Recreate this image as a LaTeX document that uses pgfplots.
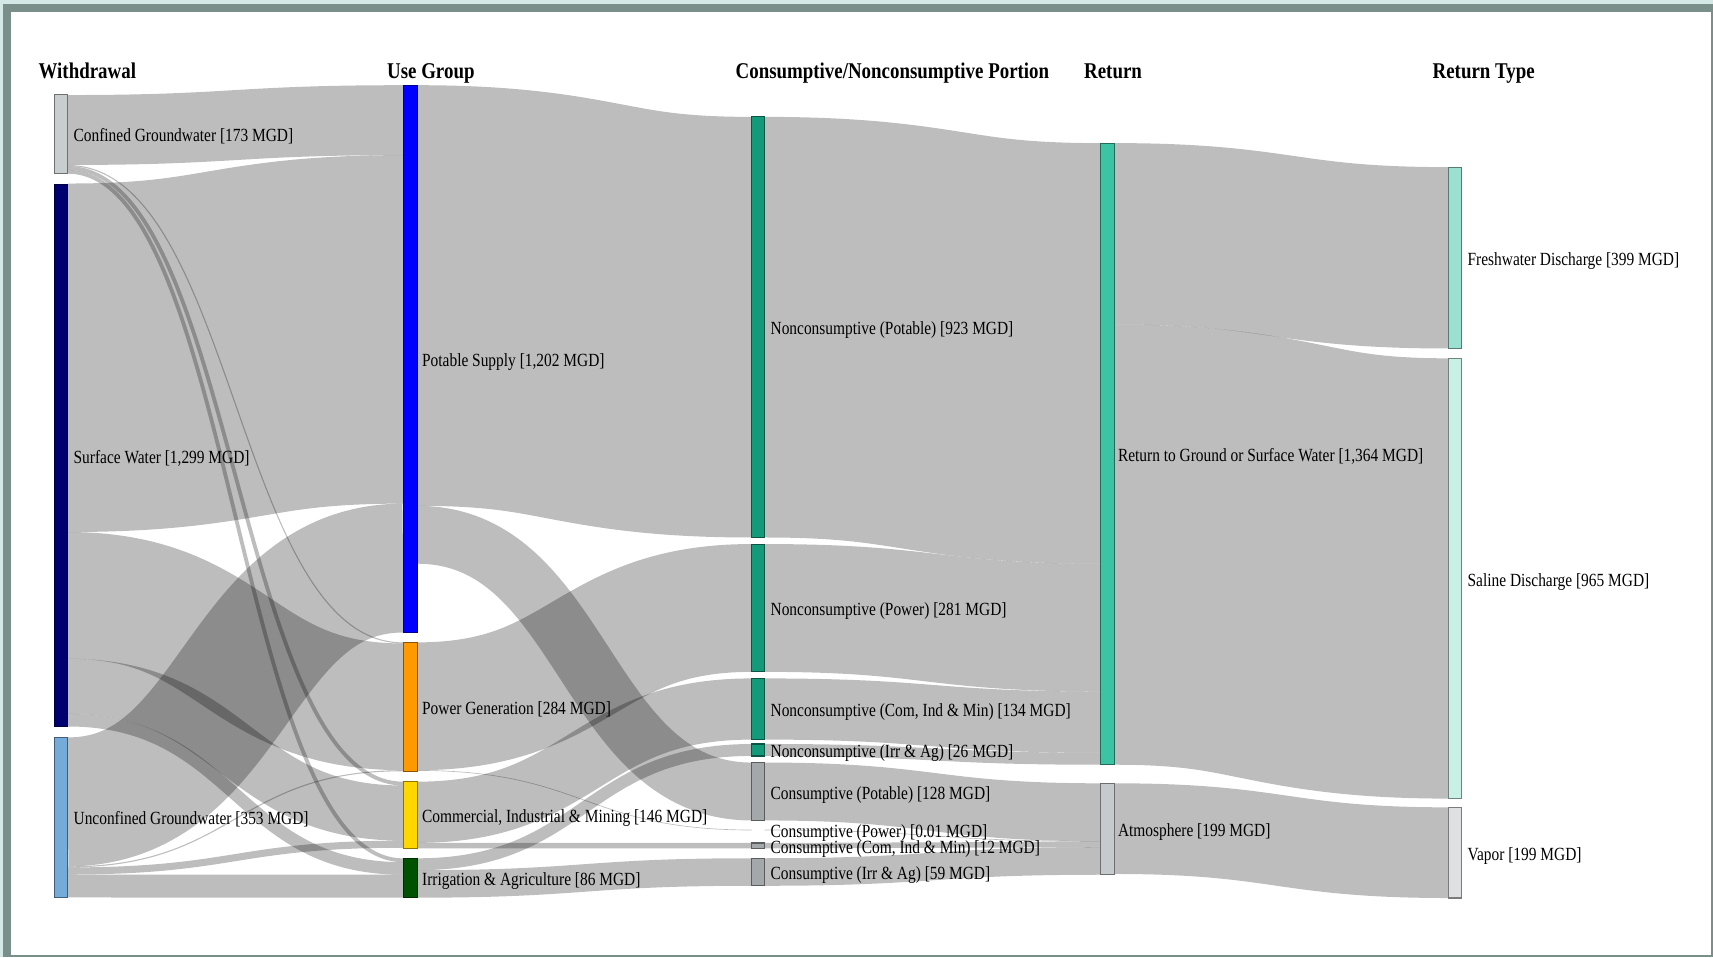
\documentclass[border=0pt]{standalone}
\usepackage{pgfplots}
\pgfplotsset{compat=1.18}
\usepackage{pgfplotstable}
\usepackage{graphicx}
\usepackage{fontspec}
\setmainfont{Liberation Serif}

\definecolor{frameL}{HTML}{D4E8E6}
\definecolor{frameD}{HTML}{7A8E8A}
\definecolor{cConf}{HTML}{C8CDCF}
\definecolor{cSurf}{HTML}{000070}
\definecolor{cUnc}{HTML}{75ABD8}
\definecolor{cPot}{HTML}{0000FF}
\definecolor{cPow}{HTML}{FF9900}
\definecolor{cCom}{HTML}{FFD700}
\definecolor{cIrr}{HTML}{005200}
\definecolor{cNC}{HTML}{139A7B}
\definecolor{cC}{HTML}{A3A8AB}
\definecolor{cRet}{HTML}{3CC3A4}
\definecolor{cAtm}{HTML}{C5CACD}
\definecolor{cFresh}{HTML}{9BE0D0}
\definecolor{cSal}{HTML}{C9F0E7}
\definecolor{cVap}{HTML}{DFE0E3}

\tikzset{flow/.style={draw=black, draw opacity=0.26}}

% pixel units: 1 px = 0.5pt, y grows downward
\newcommand\lbl[1]{\scalebox{0.83}[1]{\fontsize{8.5}{10}\selectfont #1}}
\newcommand\hdr[1]{\scalebox{0.84}[1]{\fontsize{10.3}{12}\selectfont\bfseries #1}}
\newcommand\snode[5]{\addplot[fill=#1, draw=#1!55!black, line width=0.5pt]
  coordinates {(#2,#4) (#3,#4) (#3,#5) (#2,#5)} -- cycle;}

% links: source x, top, bottom -> target x, top, bottom (px)
\pgfplotstableread{
x0   a0    b0    x1   a1    b1
62   87    151   369  78    142
62   151   152   369  588   589
62   152   155.5 369  715.5 719
62   155.5 159   369  785.7 789.2
62   168   487   369  142   461
62   487   603   369  589   705
62   603   653.5 369  719   769.5
62   653.5 665   369  789.2 800.7
62   675   793   369  461   579
62   793   794   369  705   706
62   794   800.5 369  769.5 776
62   800.5 821.5 369  800.7 821.7
382  78    463   688  107   492
382  463   516   688  698   751
382  588   705   688  498   615
382  705   705.5 688  759.5 760
382  715.5 771.5 688  621   677
382  771.5 776.5 688  771.6 776.6
382  785.7 796.5 688  681   692
382  796.5 821.7 688  785.6 810.8
700  107   492   1007 131   516
700  498   615   1007 516   633
700  621   677   1007 633   689
700  681   692   1007 689   700
700  698   751   1007 717   770
700  759.5 760   1007 770   770.5
700  771.6 776.6 1007 770.5 775.5
700  785.6 810.8 1007 775.5 800.7
1020 131   297   1326 153   319
1020 297   700   1326 328   731
1020 717   800   1326 739   822
}\flows

\begin{document}
\begin{tikzpicture}
\begin{axis}[
  scale only axis, width=784pt, height=438pt,
  xmin=0, xmax=1568, ymin=0, ymax=876, y dir=reverse,
  hide axis, clip=false, no markers,
]
% page frame
\fill[frameL] (axis cs:0,0) rectangle (axis cs:1568,876);
\fill[frameD] (axis cs:2.7,3.7) rectangle (axis cs:1568,876);
\fill[white] (axis cs:10,11) rectangle (axis cs:1566,874);

% links
\pgfplotstablegetrowsof{\flows}%
\pgfmathtruncatemacro\lastrow{\pgfplotsretval-1}%
\pgfplotsinvokeforeach{0,...,\lastrow}{%
  \pgfplotstablegetelem{#1}{x0}\of\flows\let\fxa\pgfplotsretval
  \pgfplotstablegetelem{#1}{a0}\of\flows\let\fya\pgfplotsretval
  \pgfplotstablegetelem{#1}{b0}\of\flows\let\fyb\pgfplotsretval
  \pgfplotstablegetelem{#1}{x1}\of\flows\let\fxb\pgfplotsretval
  \pgfplotstablegetelem{#1}{a1}\of\flows\let\fyc\pgfplotsretval
  \pgfplotstablegetelem{#1}{b1}\of\flows\let\fyd\pgfplotsretval
  \pgfmathsetmacro\fxm{(\fxa+\fxb)/2}%
  \pgfmathsetmacro\fym{(\fya+\fyb)/2}%
  \pgfmathsetmacro\fyn{(\fyc+\fyd)/2}%
  \pgfmathsetmacro\fw{max(0.6,(\fyb-\fya+\fyd-\fyc)/2)*0.5}%
  \edef\doflow{\noexpand\draw[flow, line width=\fw pt]
    (axis cs:\fxa,\fym) .. controls (axis cs:\fxm,\fym) and (axis cs:\fxm,\fyn) .. (axis cs:\fxb,\fyn);}%
  \doflow
}

% nodes
\snode{cConf}{50}{62}{86.5}{158.5}
\snode{cSurf}{50}{62}{168.5}{665}
\snode{cUnc}{50}{62}{675}{821.5}
\snode{cPot}{369}{382}{78}{579}
\snode{cPow}{369}{382}{588}{706}
\snode{cCom}{369}{382}{715.5}{776.5}
\snode{cIrr}{369}{382}{785.7}{821.7}
\snode{cNC}{688}{700}{107}{492}
\snode{cNC}{688}{700}{498}{615}
\snode{cNC}{688}{700}{621}{677}
\snode{cNC}{688}{700}{681}{692}
\snode{cC}{688}{700}{698}{751}
\snode{cC}{688}{700}{771.6}{776.6}
\snode{cC}{688}{700}{785.6}{810.8}
\snode{cRet}{1007}{1020}{131}{700}
\snode{cAtm}{1007}{1020}{717}{800.7}
\snode{cFresh}{1326}{1338}{153}{319}
\snode{cSal}{1326}{1338}{328}{731}
\snode{cVap}{1326}{1338}{739}{822}

% headers
\node[anchor=base west, inner sep=0] at (axis cs:35,71.7) {\hdr{Withdrawal}};
\node[anchor=base west, inner sep=0] at (axis cs:354,71.7) {\hdr{Use Group}};
\node[anchor=base west, inner sep=0] at (axis cs:673,71.7) {\hdr{Consumptive/Nonconsumptive Portion}};
\node[anchor=base west, inner sep=0] at (axis cs:992,71.7) {\hdr{Return}};
\node[anchor=base west, inner sep=0] at (axis cs:1311,71.7) {\hdr{Return Type}};

% labels
\node[anchor=base west, inner sep=0] at (axis cs:67,129.5) {\lbl{Confined Groundwater [173 MGD]}};
\node[anchor=base west, inner sep=0] at (axis cs:67,424) {\lbl{Surface Water [1,299 MGD]}};
\node[anchor=base west, inner sep=0] at (axis cs:67,755) {\lbl{Unconfined Groundwater [353 MGD]}};
\node[anchor=base west, inner sep=0] at (axis cs:386,335.5) {\lbl{Potable Supply [1,202 MGD]}};
\node[anchor=base west, inner sep=0] at (axis cs:386,654) {\lbl{Power Generation [284 MGD]}};
\node[anchor=base west, inner sep=0] at (axis cs:386,753) {\lbl{Commercial, Industrial \& Mining [146 MGD]}};
\node[anchor=base west, inner sep=0] at (axis cs:386,810.5) {\lbl{Irrigation \& Agriculture [86 MGD]}};
\node[anchor=base west, inner sep=0] at (axis cs:705,306.5) {\lbl{Nonconsumptive (Potable) [923 MGD]}};
\node[anchor=base west, inner sep=0] at (axis cs:705,563.5) {\lbl{Nonconsumptive (Power) [281 MGD]}};
\node[anchor=base west, inner sep=0] at (axis cs:705,656) {\lbl{Nonconsumptive (Com, Ind \& Min) [134 MGD]}};
\node[anchor=base west, inner sep=0] at (axis cs:705,693.5) {\lbl{Nonconsumptive (Irr \& Ag) [26 MGD]}};
\node[anchor=base west, inner sep=0] at (axis cs:705,731.5) {\lbl{Consumptive (Potable) [128 MGD]}};
\node[anchor=base west, inner sep=0] at (axis cs:705,767) {\lbl{Consumptive (Power) [0.01 MGD]}};
\node[anchor=base west, inner sep=0] at (axis cs:705,781) {\lbl{Consumptive (Com, Ind \& Min) [12 MGD]}};
\node[anchor=base west, inner sep=0] at (axis cs:705,805) {\lbl{Consumptive (Irr \& Ag) [59 MGD]}};
\node[anchor=base west, inner sep=0] at (axis cs:1023,422.5) {\lbl{Return to Ground or Surface Water [1,364 MGD]}};
\node[anchor=base west, inner sep=0] at (axis cs:1023,766) {\lbl{Atmosphere [199 MGD]}};
\node[anchor=base west, inner sep=0] at (axis cs:1343,243) {\lbl{Freshwater Discharge [399 MGD]}};
\node[anchor=base west, inner sep=0] at (axis cs:1343,536.5) {\lbl{Saline Discharge [965 MGD]}};
\node[anchor=base west, inner sep=0] at (axis cs:1343,787.5) {\lbl{Vapor [199 MGD]}};
\end{axis}
\pgfresetboundingbox
\path (current axis.south west) rectangle (current axis.north east);
\end{tikzpicture}
\end{document}
